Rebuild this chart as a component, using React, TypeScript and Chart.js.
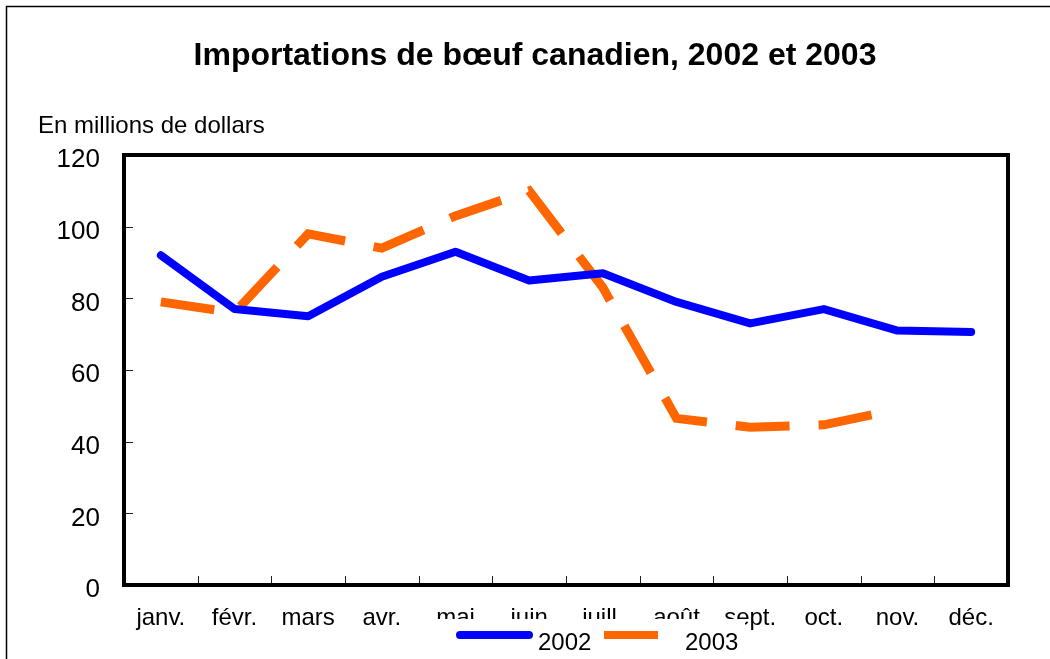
import React, { useEffect, useRef } from "react";
import { Chart, registerables } from "chart.js";

Chart.register(...registerables);

const FONT = '"Liberation Sans", Arial, sans-serif';

const months = ["janv.", "févr.", "mars", "avr.", "mai", "juin", "juill.", "août", "sept.", "oct.", "nov.", "déc."];
const imports2002 = [92, 77, 75, 86, 93, 85, 87, 79, 73, 77, 71, 70.6];
const imports2003: (number | null)[] = [79, 76, 98, 94, 103, 110, 83, 46.5, 44, 44.7, 49, null];
const seriesLabels = ["2002", "2003"];
const yTicks = [0, 20, 40, 60, 80, 100, 120];
const chartTitle = "Importations de bœuf canadien, 2002 et 2003";
const yAxisLabel = "En millions de dollars";

const decorPlugin = {
  id: "decor",
  afterDraw(chart: any) {
    const { ctx, chartArea: a, scales } = chart;
    ctx.save();
    // outer frame
    ctx.strokeStyle = "#000";
    ctx.lineWidth = 1.5;
    ctx.beginPath();
    ctx.moveTo(6.5, 700);
    ctx.lineTo(6.5, 6.5);
    ctx.lineTo(1100, 6.5);
    ctx.stroke();
    // title
    ctx.fillStyle = "#000";
    ctx.font = `bold 32px ${FONT}`;
    ctx.textAlign = "center";
    ctx.textBaseline = "alphabetic";
    ctx.fillText(chartTitle, 535, 65);
    ctx.font = `24px ${FONT}`;
    ctx.textAlign = "left";
    ctx.fillText(yAxisLabel, 38, 133);
    // inward ticks
    ctx.lineWidth = 1;
    ctx.strokeStyle = "#222";
    const ys = scales.y;
    yTicks.forEach((v) => {
      const py = Math.round(ys.getPixelForValue(v)) + 0.5;
      ctx.beginPath();
      ctx.moveTo(a.left, py);
      ctx.lineTo(a.left + 9, py);
      ctx.stroke();
    });
    const xs = scales.x;
    for (let i = 1; i < months.length; i++) {
      const px = Math.round((xs.getPixelForValue(i - 1) + xs.getPixelForValue(i)) / 2) + 0.5;
      ctx.beginPath();
      ctx.moveTo(px, a.bottom);
      ctx.lineTo(px, a.bottom - 9);
      ctx.stroke();
    }
    // plot frame
    ctx.lineWidth = 4;
    ctx.strokeStyle = "#000";
    ctx.lineJoin = "miter";
    ctx.strokeRect(a.left, a.top, a.right - a.left, a.bottom - a.top);
    // legend (drawn over the tick labels, like the original)
    ctx.fillStyle = "#fff";
    ctx.fillRect(432, 619, 313, 40);
    const ds = chart.data.datasets;
    ctx.lineWidth = 8;
    ctx.strokeStyle = ds[0].borderColor;
    ctx.lineCap = "round";
    ctx.beginPath();
    ctx.moveTo(460, 635);
    ctx.lineTo(529, 635);
    ctx.stroke();
    ctx.strokeStyle = ds[1].borderColor;
    ctx.lineCap = "butt";
    ctx.beginPath();
    ctx.moveTo(604, 635);
    ctx.lineTo(658, 635);
    ctx.stroke();
    ctx.fillStyle = "#000";
    ctx.font = `24px ${FONT}`;
    ctx.textAlign = "left";
    ctx.textBaseline = "alphabetic";
    ctx.fillText(ds[0].label, 538, 650);
    ctx.fillText(ds[1].label, 685, 650);
    ctx.restore();
  },
};

export default function App() {
  const ref = useRef<HTMLCanvasElement | null>(null);
  useEffect(() => {
    document.body.style.margin = "0";
    const chart = new Chart(ref.current as HTMLCanvasElement, {
      type: "line",
      data: {
        labels: months,
        datasets: [
          {
            label: seriesLabels[0],
            data: imports2002,
            borderColor: "#0000FF",
            backgroundColor: "#0000FF",
            borderWidth: 8,
            borderCapStyle: "round",
            borderJoinStyle: "round",
            pointRadius: 0,
            tension: 0,
          },
          {
            label: seriesLabels[1],
            data: imports2003,
            borderColor: "#FF6600",
            backgroundColor: "#FF6600",
            borderWidth: 9,
            borderDash: [54, 29],
            borderCapStyle: "butt",
            borderJoinStyle: "miter",
            pointRadius: 0,
            tension: 0,
          },
        ],
      },
      options: {
        responsive: false,
        animation: false,
        devicePixelRatio: 1,
        layout: { padding: { top: 155, right: 42, left: 0, bottom: 0 } },
        plugins: { legend: { display: false }, title: { display: false }, tooltip: { enabled: false } },
        scales: {
          x: {
            type: "category",
            offset: true,
            grid: { display: false, drawTicks: false },
            border: { display: false },
            ticks: { color: "#000", font: { family: FONT, size: 24 }, padding: 19, maxRotation: 0, autoSkip: false },
            afterFit: (s: any) => {
              s.height = 74;
            },
          },
          y: {
            min: 0,
            max: 120,
            grid: { display: false, drawTicks: false },
            border: { display: false },
            ticks: { stepSize: 20, color: "#000", font: { family: FONT, size: 26 }, padding: 24, labelOffset: 5 },
            afterFit: (s: any) => {
              s.width = 124;
            },
          },
        },
      },
      plugins: [decorPlugin],
    });
    return () => chart.destroy();
  }, []);
  return (
    <div style={{ position: "absolute", left: 0, top: 0, width: 1050, height: 659, background: "#fff" }}>
      <canvas ref={ref} width={1050} height={659} />
    </div>
  );
}
